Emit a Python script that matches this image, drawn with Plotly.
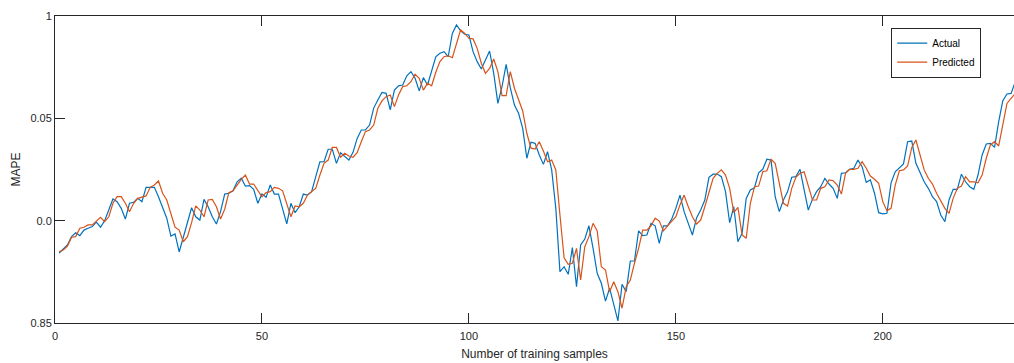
import plotly.graph_objects as go

# Sample index (1..232)
samples = list(range(1, 233))

actual = [
    0.8842, 0.8862, 0.8881, 0.8922, 0.8941, 0.8927, 0.8954, 0.8963, 0.8971, 0.8993,
    0.8968, 0.9000, 0.9052, 0.9106, 0.9093, 0.9060, 0.9008, 0.9085, 0.9090, 0.9109,
    0.9093, 0.9163, 0.9163, 0.9163, 0.9117, 0.9068, 0.9012, 0.8925, 0.8935, 0.8847,
    0.8922, 0.8987, 0.9063, 0.9019, 0.9003, 0.9104, 0.9068, 0.9019, 0.8984, 0.9044,
    0.9130, 0.9134, 0.9146, 0.9190, 0.9207, 0.9169, 0.9171, 0.9153, 0.9085, 0.9130,
    0.9114, 0.9174, 0.9130, 0.9130, 0.9052, 0.8984, 0.9085, 0.9039, 0.9068, 0.9130,
    0.9125, 0.9142, 0.9215, 0.9287, 0.9288, 0.9349, 0.9349, 0.9280, 0.9332, 0.9313,
    0.9296, 0.9334, 0.9402, 0.9443, 0.9443, 0.9467, 0.9550, 0.9590, 0.9627, 0.9622,
    0.9541, 0.9638, 0.9659, 0.9663, 0.9708, 0.9728, 0.9696, 0.9634, 0.9699, 0.9663,
    0.9736, 0.9801, 0.9818, 0.9826, 0.9801, 0.9915, 0.9956, 0.9927, 0.9911, 0.9907,
    0.9826, 0.9777, 0.9741, 0.9785, 0.9829, 0.9720, 0.9573, 0.9655, 0.9764, 0.9650,
    0.9565, 0.9525, 0.9451, 0.9305, 0.9383, 0.9378, 0.9321, 0.9275, 0.9337, 0.9248,
    0.9060, 0.8751, 0.8775, 0.8738, 0.8868, 0.8677, 0.8881, 0.8910, 0.8975, 0.8865,
    0.8743, 0.8694, 0.8607, 0.8670, 0.8588, 0.8510, 0.8689, 0.8653, 0.8803, 0.8803,
    0.8950, 0.8927, 0.8930, 0.8987, 0.8975, 0.8889, 0.8975, 0.8975, 0.9008, 0.9060,
    0.9125, 0.9044, 0.8987, 0.8930, 0.9013, 0.9052, 0.9101, 0.9212, 0.9227, 0.9228,
    0.9215, 0.9142, 0.8990, 0.9068, 0.8897, 0.8938, 0.9109, 0.9150, 0.9161, 0.9234,
    0.9251, 0.9300, 0.9296, 0.9117, 0.9044, 0.9101, 0.9142, 0.9212, 0.9215, 0.9251,
    0.9150, 0.9052, 0.9104, 0.9142, 0.9166, 0.9207, 0.9179, 0.9158, 0.9109, 0.9231,
    0.9234, 0.9251, 0.9256, 0.9296, 0.9264, 0.9187, 0.9199, 0.9134, 0.9039, 0.9033,
    0.9036, 0.9185, 0.9239, 0.9256, 0.9277, 0.9386, 0.9389, 0.9280, 0.9231, 0.9190,
    0.9158, 0.9117, 0.9093, 0.9028, 0.8995, 0.9101, 0.9153, 0.9153, 0.9227, 0.9190,
    0.9166, 0.9153, 0.9223, 0.9321, 0.9375, 0.9378, 0.9358, 0.9484, 0.9586, 0.9619,
    0.9622, 0.9679,
]

predicted = [
    0.8848, 0.8857, 0.8876, 0.8919, 0.8922, 0.8963, 0.8968, 0.8979, 0.8979, 0.9000,
    0.9016, 0.8995, 0.9019, 0.9085, 0.9117, 0.9117, 0.9085, 0.9044, 0.9085, 0.9109,
    0.9114, 0.9121, 0.9163, 0.9174, 0.9194, 0.9134, 0.9101, 0.9028, 0.8968, 0.8954,
    0.8897, 0.8922, 0.8990, 0.9072, 0.9052, 0.9019, 0.9101, 0.9104, 0.9068, 0.9008,
    0.9056, 0.9137, 0.9146, 0.9174, 0.9202, 0.9223, 0.9179, 0.9179, 0.9150, 0.9117,
    0.9137, 0.9142, 0.9163, 0.9158, 0.9146, 0.9085, 0.9019, 0.9072, 0.9068, 0.9085,
    0.9125, 0.9142, 0.9158, 0.9223, 0.9280, 0.9296, 0.9358, 0.9358, 0.9310, 0.9329,
    0.9316, 0.9310, 0.9332, 0.9386, 0.9435, 0.9443, 0.9467, 0.9549, 0.9585, 0.9606,
    0.9614, 0.9557, 0.9614, 0.9655, 0.9659, 0.9679, 0.9715, 0.9696, 0.9638, 0.9671,
    0.9659, 0.9725, 0.9777, 0.9801, 0.9806, 0.9796, 0.9871, 0.9932, 0.9915, 0.9891,
    0.9888, 0.9842, 0.9769, 0.9720, 0.9744, 0.9790, 0.9728, 0.9611, 0.9611, 0.9728,
    0.9647, 0.9590, 0.9536, 0.9427, 0.9354, 0.9350, 0.9386, 0.9340, 0.9288, 0.9296,
    0.9248, 0.9028, 0.8819, 0.8787, 0.8792, 0.8865, 0.8710, 0.8873, 0.8922, 0.8987,
    0.8950, 0.8775, 0.8759, 0.8653, 0.8702, 0.8653, 0.8572, 0.8677, 0.8710, 0.8792,
    0.8865, 0.8954, 0.8954, 0.8975, 0.9012, 0.8998, 0.8950, 0.8975, 0.8995, 0.9019,
    0.9077, 0.9125, 0.9068, 0.9019, 0.8984, 0.9003, 0.9068, 0.9134, 0.9207, 0.9231,
    0.9248, 0.9223, 0.9158, 0.9039, 0.9065, 0.8930, 0.8914, 0.9085, 0.9166, 0.9169,
    0.9239, 0.9244, 0.9300, 0.9280, 0.9190, 0.9085, 0.9072, 0.9158, 0.9212, 0.9231,
    0.9239, 0.9166, 0.9101, 0.9101, 0.9158, 0.9166, 0.9199, 0.9195, 0.9174, 0.9130,
    0.9231, 0.9251, 0.9251, 0.9256, 0.9288, 0.9256, 0.9218, 0.9202, 0.9183, 0.9093,
    0.9049, 0.9060, 0.9174, 0.9244, 0.9248, 0.9267, 0.9358, 0.9394, 0.9321, 0.9248,
    0.9207, 0.9179, 0.9134, 0.9093, 0.9060, 0.9036, 0.9109, 0.9158, 0.9169, 0.9215,
    0.9190, 0.9190, 0.9185, 0.9223, 0.9305, 0.9370, 0.9386, 0.9365, 0.9467, 0.9573,
    0.9598, 0.9622,
]

# Axis ticks
x_ticks = [0, 50, 100, 150, 200]
y_ticks = [0.85, 0.9, 0.95, 1.0]
y_tick_text = ["0.85", "0.0", "0.05", "1"]

BLUE = "#0072BD"
ORANGE = "#D95319"
AXIS = "#262626"

fig = go.Figure()
fig.add_trace(go.Scatter(x=samples, y=actual, mode="lines", name="Actual",
                         line=dict(color=BLUE, width=1.2)))
fig.add_trace(go.Scatter(x=samples, y=predicted, mode="lines", name="Predicted",
                         line=dict(color=ORANGE, width=1.2)))

fig.update_layout(
    width=1014, height=363,
    margin=dict(l=55, r=0, t=16, b=40),
    paper_bgcolor="white", plot_bgcolor="white",
    font=dict(family="Liberation Sans, Arial, sans-serif", size=11, color=AXIS),
    showlegend=True,
    legend=dict(
        x=0.872, y=0.962, xanchor="left", yanchor="top",
        bgcolor="white", bordercolor=AXIS, borderwidth=1,
        font=dict(size=10, color="#000000"),
        tracegroupgap=0, itemwidth=30,
    ),
)

fig.update_xaxes(
    range=[0, 231.7], tickvals=x_ticks,
    showline=True, linecolor=AXIS, linewidth=1, mirror="ticks",
    ticks="inside", ticklen=10, tickcolor=AXIS, tickwidth=1,
    showgrid=False, zeroline=False,
    tickfont=dict(size=11, color=AXIS), ticklabelstandoff=3,
    title=dict(text="Number of training samples", font=dict(size=12, color=AXIS), standoff=8),
)
fig.update_yaxes(
    range=[0.85, 1.0], tickvals=y_ticks, ticktext=y_tick_text,
    showline=True, linecolor=AXIS, linewidth=1, mirror=False,
    ticks="inside", ticklen=10, tickcolor=AXIS, tickwidth=1,
    showgrid=False, zeroline=False,
    tickfont=dict(size=11, color=AXIS),
    title=dict(text="MAPE", font=dict(size=12, color=AXIS), standoff=7),
)

fig.write_html("out.html")
